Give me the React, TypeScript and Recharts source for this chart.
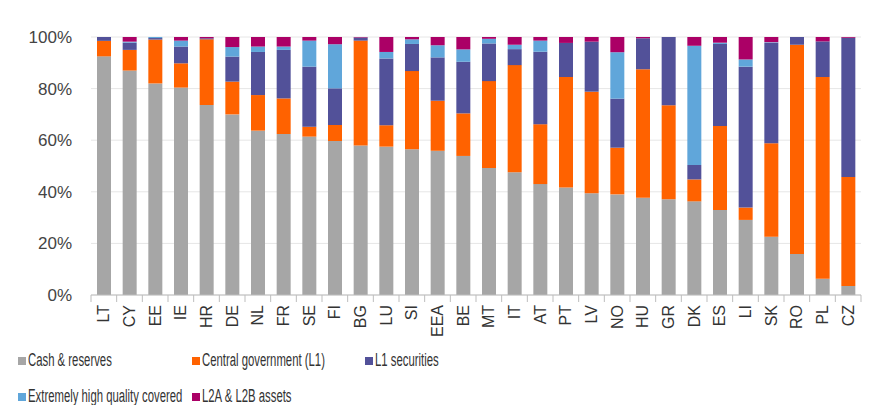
import React from 'react';
import { BarChart, Bar, XAxis, YAxis, CartesianGrid } from 'recharts';

const countries = ['LT', 'CY', 'EE', 'IE', 'HR', 'DE', 'NL', 'FR', 'SE', 'FI', 'BG', 'LU', 'SI', 'EEA', 'BE', 'MT', 'IT', 'AT', 'PT', 'LV', 'NO', 'HU', 'GR', 'DK', 'ES', 'LI', 'SK', 'RO', 'PL', 'CZ'];

const cashReserves = [92.5, 87, 82, 80.4, 73.6, 70, 63.7, 62.4, 61.4, 59.7, 57.9, 57.5, 56.5, 55.9, 53.9, 49.2, 47.6, 43, 41.7, 39.4, 39, 37.7, 37.1, 36.3, 32.9, 29.1, 22.6, 15.9, 6.3, 3.5];
const centralGov = [6, 8, 17, 9.4, 25.5, 12.7, 13.8, 13.8, 3.8, 6.2, 40.7, 8.3, 30.3, 19.4, 16.5, 33.7, 41.5, 23.2, 42.8, 39.4, 18.1, 49.8, 36.4, 8.5, 32.6, 4.8, 36.2, 81.1, 78.2, 42.2];
const l1Securities = [1.5, 2.8, 0.6, 6.5, 0.4, 9.7, 16.7, 18.8, 23.3, 14.2, 1.2, 25.9, 10.5, 16.8, 20, 14.6, 6.2, 28.1, 13.2, 19.4, 19, 12, 26.5, 5.6, 31.8, 54.6, 39, 3, 13.8, 54];
const extremelyHighCovered = [0, 0.4, 0.4, 2.3, 0, 3.7, 2.1, 1.3, 10.1, 17.1, 0, 2.5, 1.8, 4.7, 4.8, 1.8, 1.7, 4.3, 0, 0, 18, 0, 0, 46.2, 0.5, 2.8, 0.2, 0, 0, 0];
const l2Assets = [0, 1.8, 0, 1.4, 0.5, 3.9, 3.7, 3.7, 1.4, 2.8, 0.2, 5.8, 0.9, 3.2, 4.8, 0.7, 3, 1.4, 2.3, 1.8, 5.9, 0.5, 0, 3.4, 2.2, 8.7, 2, 0, 1.7, 0.3];

const yTicks = [0, 0.2, 0.4, 0.6, 0.8, 1];

const SERIES = [
  { key: 'cash', name: 'Cash & reserves', color: '#A6A6A6' },
  { key: 'cg', name: 'Central government (L1)', color: '#FF6200' },
  { key: 'l1', name: 'L1 securities', color: '#525199' },
  { key: 'ehq', name: 'Extremely high quality covered', color: '#60A6DA' },
  { key: 'l2', name: 'L2A & L2B assets', color: '#AB0066' },
];

const FONT = '"Liberation Sans", Arial, sans-serif';

const data = countries.map((c, i) => ({
  country: c,
  cash: cashReserves[i],
  cg: centralGov[i],
  l1: l1Securities[i],
  ehq: extremelyHighCovered[i],
  l2: l2Assets[i],
}));

const HALF_BAND = 770 / countries.length / 2;

// ticks sit between categories, labels rotated
function CountryTick(props: any) {
  const { x, y, payload, index } = props;
  const isLast = index === countries.length - 1;
  return (
    <g>
      <line x1={x - HALF_BAND} x2={x - HALF_BAND} y1={y} y2={y + 7} stroke="#BDBDBD" />
      {isLast && <line x1={x + HALF_BAND} x2={x + HALF_BAND} y1={y} y2={y + 7} stroke="#BDBDBD" />}
      <text
        x={x}
        y={y + 10}
        transform={`rotate(-90, ${x}, ${y + 10})`}
        textAnchor="end"
        dominantBaseline="central"
        fill="#333"
        fontSize={16}
        fontFamily={FONT}
      >
        {payload.value}
      </text>
    </g>
  );
}

const legendPos = [
  { left: 18, top: 350 },
  { left: 192, top: 350 },
  { left: 365, top: 350 },
  { left: 18, top: 386 },
  { left: 192, top: 386 },
];

export default function App() {
  return (
    <div style={{ position: 'absolute', left: 0, top: 0, width: 875, height: 405, background: '#fff', overflow: 'hidden' }}>
      <BarChart
        width={875}
        height={405}
        data={data}
        stackOffset="expand"
        margin={{ top: 37, right: 14, left: 11, bottom: 70 }}
        barSize={14}
      >
        <CartesianGrid vertical={false} stroke="#E6E6E6" />
        <XAxis
          dataKey="country"
          interval={0}
          tickLine={false}
          tickSize={0}
          tickMargin={0}
          height={40}
          axisLine={{ stroke: '#BDBDBD' }}
          tick={<CountryTick />}
        />
        <YAxis
          width={80}
          domain={[0, 1]}
          ticks={yTicks}
          axisLine={false}
          tickLine={false}
          tickSize={0}
          tickMargin={19}
          tickFormatter={(v: number) => `${Math.round(v * 100)}%`}
          tick={{ fill: '#444', fontSize: 17, fontFamily: FONT }}
        />
        {SERIES.map((s) => (
          <Bar key={s.key} dataKey={s.key} name={s.name} stackId="a" fill={s.color} isAnimationActive={false} />
        ))}
      </BarChart>
      {SERIES.map((s, i) => (
        <div
          key={s.key}
          style={{
            position: 'absolute',
            left: legendPos[i].left,
            top: legendPos[i].top,
            display: 'flex',
            alignItems: 'center',
            whiteSpace: 'nowrap',
          }}
        >
          <span style={{ width: 8, height: 8, background: s.color, marginRight: 2, display: 'inline-block' }} />
          <span
            style={{
              display: 'inline-block',
              fontFamily: FONT,
              fontSize: 18,
              color: '#333',
              transform: 'scaleX(0.63)',
              transformOrigin: 'left center',
            }}
          >
            {s.name}
          </span>
        </div>
      ))}
    </div>
  );
}
